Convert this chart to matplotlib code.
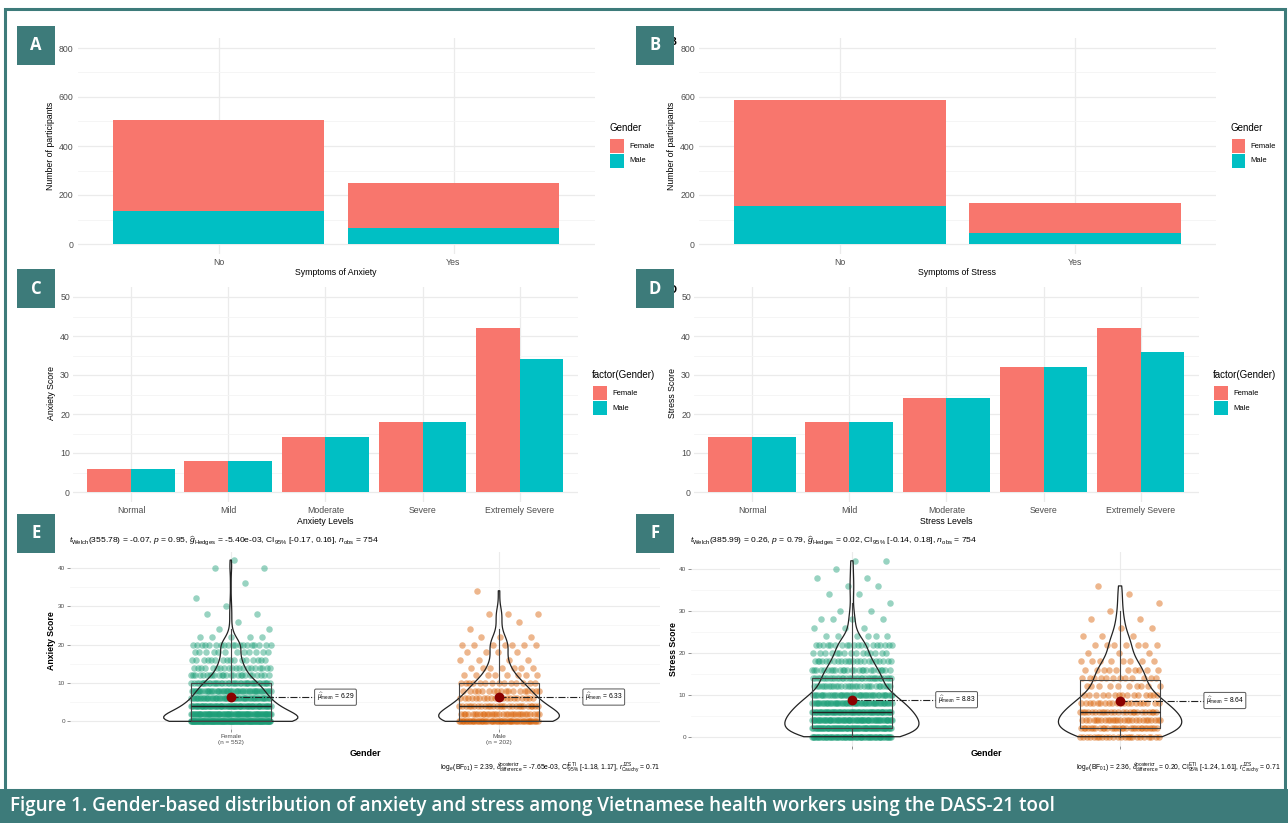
import numpy as np
import matplotlib.pyplot as plt
from matplotlib.patches import Rectangle

plt.rcParams['font.family'] = ['Liberation Sans', 'DejaVu Sans']
plt.rcParams['mathtext.fontset'] = 'custom'
plt.rcParams['mathtext.rm'] = 'Liberation Sans'
plt.rcParams['mathtext.it'] = 'Liberation Sans:italic'
plt.rcParams['mathtext.bf'] = 'Liberation Sans:bold'

# counts of participants by symptom status
symptom_cats = ['No', 'Yes']
anx_symptom_female = [370, 182]
anx_symptom_male = [135, 67]
str_symptom_female = [430, 122]
str_symptom_male = [157, 45]

# score by severity level
levels = ['Normal', 'Mild', 'Moderate', 'Severe', 'Extremely Severe']
anx_level_female = [6, 8, 14, 18, 42]
anx_level_male = [6, 8, 14, 18, 34]
str_level_female = [14, 18, 24, 32, 42]
str_level_male = [14, 18, 24, 32, 36]

# DASS-21 score -> number of participants
anx_female_counts = {0: 144, 2: 85, 4: 70, 6: 55, 8: 50, 10: 40, 12: 25, 14: 20, 16: 16, 18: 12,
                     20: 19, 22: 5, 24: 2, 26: 1, 28: 2, 30: 1, 32: 1, 36: 1, 40: 2, 42: 1}
anx_male_counts = {0: 53, 2: 31, 4: 27, 6: 20, 8: 18, 10: 14, 12: 8, 14: 7, 16: 4, 18: 4,
                   20: 7, 22: 3, 24: 1, 26: 1, 28: 3, 34: 1}
str_female_counts = {0: 69, 2: 75, 4: 70, 6: 65, 8: 55, 10: 45, 12: 30, 14: 35, 16: 26, 18: 23,
                     20: 15, 22: 19, 24: 6, 26: 3, 28: 4, 30: 2, 32: 1, 34: 2, 36: 2, 38: 2,
                     40: 1, 42: 2}
str_male_counts = {0: 24, 2: 30, 4: 27, 6: 25, 8: 20, 10: 15, 12: 10, 14: 12, 16: 10, 18: 8,
                   20: 3, 22: 7, 24: 3, 26: 2, 28: 2, 30: 1, 32: 1, 34: 1, 36: 1}

anx_subtitle = (r"$t_{\mathrm{Welch}}$(355.78) = -0.07, $p$ = 0.95, $\widehat{g}_{\mathrm{Hedges}}$ = -5.40e-03, "
                r"CI$_{95\%}$ [-0.17, 0.16], $n_{\mathrm{obs}}$ = 754")
str_subtitle = (r"$t_{\mathrm{Welch}}$(385.99) = 0.26, $p$ = 0.79, $\widehat{g}_{\mathrm{Hedges}}$ = 0.02, "
                r"CI$_{95\%}$ [-0.14, 0.18], $n_{\mathrm{obs}}$ = 754")
anx_caption = (r"$\log_{e}(\mathrm{BF}_{01})$ = 2.39, $\widehat{\delta}_{\mathrm{difference}}^{\mathrm{posterior}}$ = -7.65e-03, "
               r"CI$_{95\%}^{\mathrm{ETI}}$ [-1.18, 1.17], $r_{\mathrm{Cauchy}}^{\mathrm{JZS}}$ = 0.71")
str_caption = (r"$\log_{e}(\mathrm{BF}_{01})$ = 2.36, $\widehat{\delta}_{\mathrm{difference}}^{\mathrm{posterior}}$ = 0.20, "
               r"CI$_{95\%}^{\mathrm{ETI}}$ [-1.24, 1.61], $r_{\mathrm{Cauchy}}^{\mathrm{JZS}}$ = 0.71")

FEMALE_C = '#F8766D'
MALE_C = '#00BFC4'
GREEN = '#1B9E77'
ORANGE = '#D95F02'
TEAL = '#3d7b7a'
TICK_C = '#4D4D4D'

W, H = 1288, 823
fig = plt.figure(figsize=(W / 100, H / 100), dpi=100)


def px_axes(left, top, right, bottom):
    return fig.add_axes([left / W, 1 - bottom / H, (right - left) / W, (bottom - top) / H])


def ftext(x, y, s, **kw):
    return fig.text(x / W, 1 - y / H, s, **kw)


def frect(x0, y0, x1, y1, **kw):
    r = Rectangle((x0 / W, 1 - y1 / H), (x1 - x0) / W, (y1 - y0) / H,
                  transform=fig.transFigure, **kw)
    fig.add_artist(r)
    return r


def gg_minimal(ax, ymajor, yminor):
    for sp in ax.spines.values():
        sp.set_visible(False)
    ax.set_yticks(ymajor)
    ax.set_yticks(yminor, minor=True)
    ax.grid(True, which='major', color='#EBEBEB', lw=0.9)
    ax.grid(True, which='minor', axis='y', color='#F4F4F4', lw=0.6)
    ax.tick_params(which='both', length=0, labelcolor=TICK_C, labelsize=6.3, pad=3)
    ax.set_axisbelow(True)


def legend(x, y_title, title):
    ftext(x, y_title, title, fontsize=7, va='center', ha='left')
    frect(x + 1, y_title + 11, x + 14.5, y_title + 25, color=FEMALE_C, lw=0)
    frect(x + 1, y_title + 26, x + 14.5, y_title + 40, color=MALE_C, lw=0)
    ftext(x + 20, y_title + 18, 'Female', fontsize=5.5, va='center')
    ftext(x + 20, y_title + 33, 'Male', fontsize=5.5, va='center')


def stacked_panel(box, female, male, xlabel):
    left, right = box
    ax = px_axes(left, 38.2, right, 253.8)
    x = np.arange(1, len(symptom_cats) + 1)
    ax.bar(x, male, 0.9, color=MALE_C, lw=0)
    ax.bar(x, female, 0.9, bottom=male, color=FEMALE_C, lw=0)
    ax.set_xlim(0.4, 2.6)
    ax.set_ylim(-40, 840)
    gg_minimal(ax, [0, 200, 400, 600, 800], [100, 300, 500, 700])
    ax.set_xticks(x, symptom_cats)
    ftext((left + right) / 2, 272, xlabel, fontsize=6.3, ha='center', va='center')
    ftext(left - 27, 146, 'Number of participants', fontsize=6.3, rotation=90,
          ha='center', va='center')
    legend(right + 14.5, 128, 'Gender')
    return ax


def dodge_panel(box, female, male, xlabel, ylabel):
    left, right = box
    ax = px_axes(left, 287.25, right, 501.75)
    x = np.arange(1, len(levels) + 1)
    ax.bar(x - 0.225, female, 0.45, color=FEMALE_C, lw=0)
    ax.bar(x + 0.225, male, 0.45, color=MALE_C, lw=0)
    ax.set_xlim(0.4, 5.6)
    ax.set_ylim(-2.5, 52.5)
    gg_minimal(ax, [0, 10, 20, 30, 40, 50], [5, 15, 25, 35, 45])
    ax.tick_params(axis='y', pad=2)
    ax.set_xticks(x, levels)
    ftext((left + right) / 2, 521, xlabel, fontsize=6.3, ha='center', va='center')
    ftext(left - 21, 393, ylabel, fontsize=6.3, rotation=90, ha='center', va='center')
    legend(right + 14, 375, 'factor(Gender)')
    return ax


def expand(counts):
    return np.repeat(list(counts.keys()), list(counts.values())).astype(float)


def nrd0_factor(d):
    # R's bw.nrd0 expressed as a gaussian_kde factor
    iqr = np.subtract(*np.percentile(d, [75, 25]))
    sd = d.std(ddof=1)
    return 0.9 * min(sd, iqr / 1.34) / sd * len(d) ** -0.2


def stats_panel(box, top, bottom, groups, widths, ylabel, subtitle, caption, tick_labels):
    left, right = box
    ax = px_axes(left, top, right, bottom)
    data = [expand(c) for c, _ in groups]
    pos = [1, 2]
    for d, p, w, (_, col) in zip(data, pos, widths, groups):
        vp = ax.violinplot([d], positions=[p], widths=w, showextrema=False,
                           bw_method=nrd0_factor(d))
        for b in vp['bodies']:
            b.set_facecolor('none')
            b.set_edgecolor('#222222')
            b.set_linewidth(0.9)
            b.set_alpha(1)
            b.set_zorder(3)
        # golden-ratio spread keeps the strip deterministic
        offs = ((np.arange(len(d)) * 0.6180339887) % 1 - 0.5) * 0.3
        ax.scatter(p + offs, d, s=22, color=col, alpha=0.45, lw=0, zorder=2)
    ax.boxplot(data, positions=pos, widths=0.3, showfliers=False, showcaps=False,
               patch_artist=False, zorder=3,
               boxprops=dict(color='#444444', lw=0.8),
               whiskerprops=dict(color='#444444', lw=0.8),
               medianprops=dict(color='#222222', lw=1.0))
    for d, p in zip(data, pos):
        m = d.mean()
        ax.plot([p, p + 0.32], [m, m], color='#222222', lw=0.8, ls='-.', zorder=4)
        ax.scatter([p], [m], s=50, color='#8B0000', zorder=5, lw=0)
        ax.text(p + 0.32, m, r"$\widehat{\mu}_{\mathrm{mean}}$" + f" = {m:.2f}", fontsize=4.8,
                va='center', ha='left', zorder=6,
                bbox=dict(boxstyle='round,pad=0.3,rounding_size=0.2', fc='white',
                          ec='#555555', lw=0.7))
    ax.set_xlim(0.4, 2.6)
    ax.set_ylim(-2.1, 44.1)
    for sp in ax.spines.values():
        sp.set_visible(False)
    ax.set_yticks([0, 10, 20, 30, 40])
    ax.set_yticks([5, 15, 25, 35], minor=True)
    ax.grid(True, which='major', color='#EBEBEB', lw=0.8)
    ax.grid(True, which='minor', axis='y', color='#F4F4F4', lw=0.5)
    ax.set_axisbelow(True)
    ax.set_xticks(pos, tick_labels)
    ax.tick_params(which='major', length=2, width=0.5, color='#666666', labelcolor=TICK_C,
                   labelsize=4.6, pad=1.5)
    ax.tick_params(which='minor', length=0)
    ftext(left - 1, 541, subtitle, fontsize=6.1, ha='left', va='center')
    ftext(right, 768, caption, fontsize=4.9, ha='right', va='center')
    ftext((left + right) / 2, 753, 'Gender', fontsize=6.5, weight='bold', ha='center', va='center')
    ftext(left - 18, (top + bottom) / 2, ylabel, fontsize=6.3, weight='bold', rotation=90,
          ha='center', va='center')
    return ax


stacked_panel((77.5, 594.5), anx_symptom_female, anx_symptom_male, 'Symptoms of Anxiety')
stacked_panel((699, 1216), str_symptom_female, str_symptom_male, 'Symptoms of Stress')
dodge_panel((72.7, 578), anx_level_female, anx_level_male, 'Anxiety Levels', 'Anxiety Score')
dodge_panel((693.7, 1199), str_level_female, str_level_male, 'Stress Levels', 'Stress Score')

stats_panel((69.8, 660), 552, 729.4,
            [(anx_female_counts, GREEN), (anx_male_counts, ORANGE)], [0.5, 0.45],
            'Anxiety Score', anx_subtitle, anx_caption,
            ['Female\n(n = 552)', 'Male\n(n = 202)'])
stats_panel((691, 1281), 552, 745.5,
            [(str_female_counts, GREEN), (str_male_counts, ORANGE)], [0.5, 0.46],
            'Stress Score', str_subtitle, str_caption, ['', ''])

# stray panel letters from the original composite, mostly hidden by the tags
ftext(668, 42, 'B', fontsize=8, weight='bold', va='center', ha='left', zorder=1)
ftext(668, 290, 'D', fontsize=8, weight='bold', va='center', ha='left', zorder=1)

# panel tags
tags = [('A', 17, 26), ('B', 636, 26), ('C', 17, 269), ('D', 636, 269), ('E', 17, 514), ('F', 636, 514)]
for letter, x0, y0 in tags:
    frect(x0, y0, x0 + 38, y0 + 39, color=TEAL, lw=0, zorder=10)
    ftext(x0 + 19, y0 + 19.5, letter, fontsize=12, weight='bold', color='white',
          family=['Open Sans', 'DejaVu Sans'], ha='center', va='center', zorder=11)

# frame and caption bar
frect(5, 9, 1285, 790, fill=False, ec=TEAL, lw=2.2, zorder=12)
frect(0, 789, W, H, color=TEAL, lw=0, zorder=12)
ftext(10, 806, 'Figure 1. Gender-based distribution of anxiety and stress among Vietnamese '
      'health workers using the DASS-21 tool', fontsize=13.6, weight='semibold', color='white',
      family=['Open Sans', 'DejaVu Sans'], ha='left', va='center', zorder=13)

fig.savefig('out.png', dpi=100, facecolor='white')
